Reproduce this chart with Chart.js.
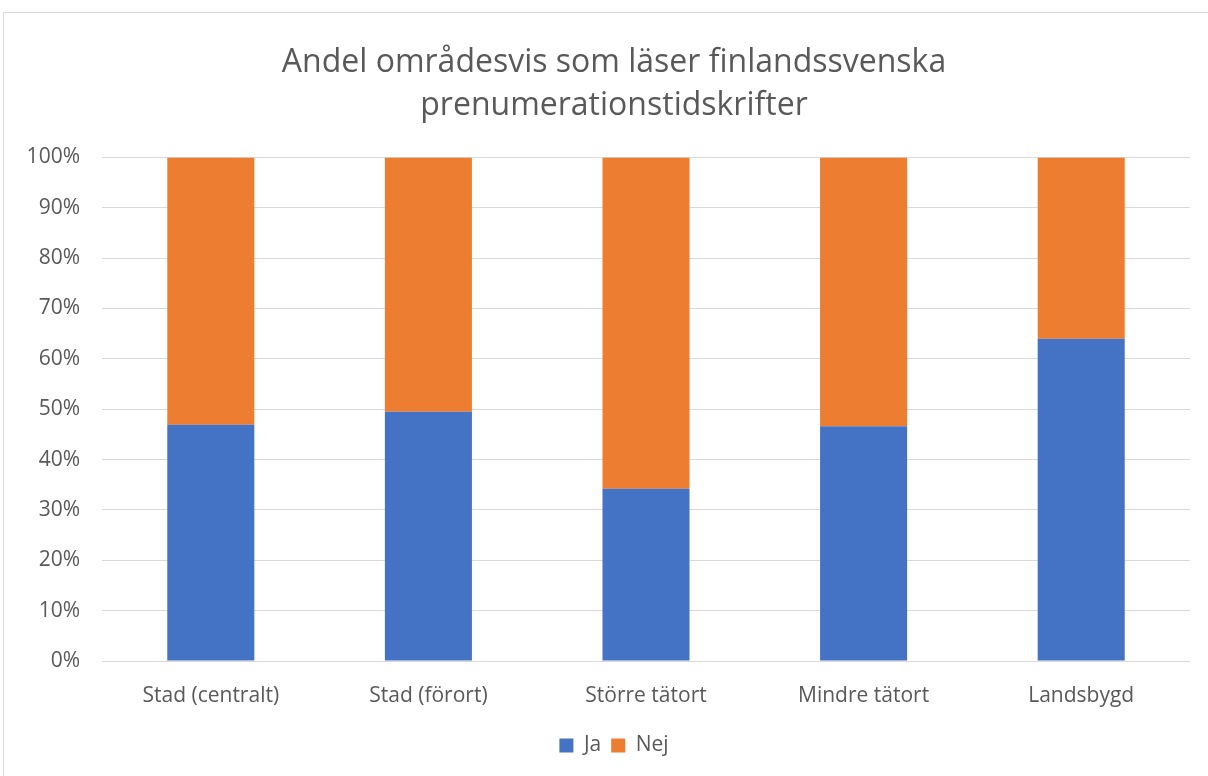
<!DOCTYPE html>
<html>
<head>
<meta charset="utf-8">
<script src="https://cdn.jsdelivr.net/npm/chart.js@4.4.0/dist/chart.umd.min.js"></script>
<style>
  body { margin: 0; background: #fff; overflow: hidden; }
  #wrap { position: relative; width: 1208px; height: 776px; }
  #frame { position: absolute; left: 3px; top: 12px; width: 1230px; height: 800px; border: 1px solid #d9d9d9; box-sizing: border-box; }
  canvas { position: absolute; left: 0; top: 0; }
</style>
</head>
<body>
<div id="wrap">
  <div id="frame"></div>
  <canvas id="chart" width="1208" height="776"></canvas>
</div>
<script>
Chart.defaults.color = '#595959';
Chart.defaults.font.family = '"Open Sans", "Noto Sans", sans-serif';

const categories = ['Stad (centralt)', 'Stad (förort)', 'Större tätort', 'Mindre tätort', 'Landsbygd'];
const jaData = [46.9, 49.5, 34.2, 46.6, 64.0];
const nejData = [53.1, 50.5, 65.8, 53.4, 36.0];
const yTicks = [0, 10, 20, 30, 40, 50, 60, 70, 80, 90, 100];

const ctx = document.getElementById('chart');

// let the y labels use the space left of the padding (they are clipped to the scale box)
const widenYAxis = {
  id: 'widenYAxis',
  afterLayout(chart) {
    const y = chart.scales.y;
    y.left = 0;
    y.width = y.right - y.left;
  }
};

new Chart(ctx, {
  type: 'bar',
  data: {
    labels: categories,
    datasets: [
      { label: 'Ja', data: jaData, backgroundColor: '#4472C4' },
      { label: 'Nej', data: nejData, backgroundColor: '#ED7D31' }
    ]
  },
  options: {
    responsive: false,
    animation: false,
    layout: { padding: { top: 20, right: 18, bottom: 10, left: 38 } },
    datasets: {
      bar: { categoryPercentage: 0.4, barPercentage: 1 }
    },
    plugins: {
      title: {
        display: true,
        text: ['Andel områdesvis som läser finlandssvenska', 'prenumerationstidskrifter'],
        font: { size: 32, weight: 'normal', lineHeight: 1.35 },
        color: '#595959',
        padding: { top: 21, bottom: 30 }
      },
      legend: {
        position: 'bottom',
        labels: {
          boxWidth: 14,
          boxHeight: 14,
          font: { size: 21 },
          padding: 10
        }
      },
      tooltip: { enabled: false }
    },
    scales: {
      x: {
        stacked: true,
        grid: { display: false },
        border: { display: false },
        ticks: { font: { size: 21 }, padding: 14, maxRotation: 0 },
        afterFit: (scale) => { scale.height = 64; }
      },
      y: {
        stacked: true,
        min: 0,
        max: 100,
        afterBuildTicks: (scale) => { scale.ticks = yTicks.map(v => ({ value: v })); },
        grid: { color: '#d9d9d9', lineWidth: 1, drawTicks: false },
        border: { display: false },
        ticks: {
          font: { size: 21 },
          padding: 22,
          callback: (v) => v + '%'
        },
        afterFit: (scale) => { scale.width = 64; }
      }
    }
  },
  plugins: [widenYAxis]
});
</script>
</body>
</html>
